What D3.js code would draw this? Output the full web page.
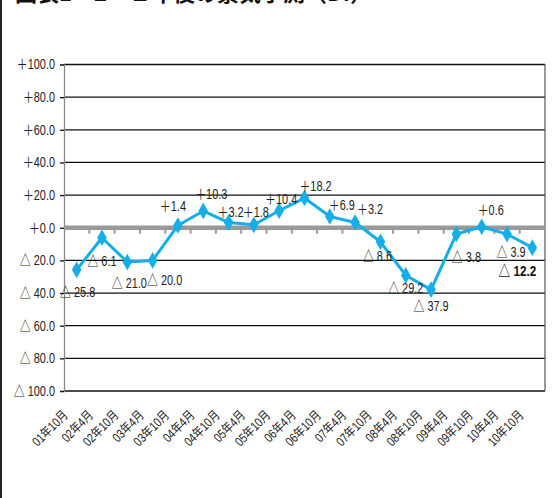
<!DOCTYPE html>
<html>
<head>
<meta charset="utf-8">
<script src="https://cdn.jsdelivr.net/npm/d3@7"></script>
<style>
  html, body { margin: 0; padding: 0; background: #fff; }
  svg { display: block; }
  text { font-family: "Liberation Sans", "Noto Sans CJK JP", sans-serif; fill: #222; }
</style>
</head>
<body>
<script>
// Survey periods (half-yearly)
const periods = ["01年10月","02年4月","02年10月","03年4月","03年10月","04年4月","04年10月",
  "05年4月","05年10月","06年4月","06年10月","07年4月","07年10月","08年4月","08年10月",
  "09年4月","09年10月","10年4月","10年10月"];
// DI values
const diValues = [-25.8, -6.1, -21.0, -20.0, 1.4, 10.3, 3.2, 1.8, 10.4, 18.2, 6.9, 3.2,
  -8.6, -29.2, -37.9, -3.8, 0.6, -3.9, -12.2];
// Y-axis ticks
const yTicks = [100, 80, 60, 40, 20, 0, -20, -40, -60, -80, -100];

// Label placement relative to each point [dx, dy]
const labelOffsets = [[1,23],[0,24],[2,22],[12,20],[-5,-19],[8,-16],[2,-10],[2,-12],[2,-11],
  [11,-11],[12,-11],[15,-13],[-3,15],[0,13],[0,17],[10,24],[9,-16],[4,18],[-15,23]];

const W = 557, H = 498;
const plotL = 64, plotR = 545, plotT = 64.5, plotB = 391;
const squeeze = 0.78;   // horizontal compression for a condensed look

const fmt = v => v > 0 ? "＋" + v.toFixed(1) : (v === 0 ? "＋0.0" : "△ " + Math.abs(v).toFixed(1));

const svg = d3.select("body").append("svg").attr("width", W).attr("height", H);

// Title (runs off the top edge)
svg.append("text")
  .attr("x", 15).attr("y", 1)
  .style("font-family", "'Noto Sans CJK JP', sans-serif")
  .style("font-weight", "bold").style("font-size", "22px").style("fill", "#111")
  .text("図表1－2　１年後の景気予測（DI）");

// Outer frame line on the left
svg.append("line").attr("x1", 1).attr("x2", 1).attr("y1", 0).attr("y2", H)
  .attr("stroke", "#222").attr("stroke-width", 2);

const x = d3.scaleBand().domain(periods).range([plotL, plotR]);
const y = d3.scaleLinear().domain([-100, 100]).range([plotB, plotT]);

// Gridlines
svg.append("g").selectAll("line").data(yTicks.filter(t => t !== 0)).join("line")
  .attr("x1", plotL).attr("x2", plotR)
  .attr("y1", d => y(d)).attr("y2", d => y(d))
  .attr("stroke", "#111").attr("stroke-width", 1.3);

// Right border of plot area
svg.append("line").attr("x1", plotR).attr("x2", plotR).attr("y1", y(100)).attr("y2", y(-100))
  .attr("stroke", "#555").attr("stroke-width", 1.2);

// Y axis
const yAxis = svg.append("g").attr("transform", `translate(${plotL},0)`)
  .call(d3.axisLeft(y).tickValues(yTicks).tickSize(4).tickPadding(7.5).tickFormat(fmt));
yAxis.select(".domain").attr("stroke", "#888").attr("stroke-width", 1.3);
yAxis.selectAll(".tick line").attr("stroke", "#111").attr("stroke-width", 1.3);
yAxis.selectAll(".tick text")
  .attr("transform", `scale(${squeeze},1)`)
  .style("font-size", "14px").style("fill", "#222")
  .style("font-family", "'Liberation Sans', 'Noto Sans CJK JP', sans-serif");

// Zero line with category ticks
const zero = svg.append("g").attr("transform", `translate(0,${y(0)})`);
zero.append("g").selectAll("line").data(periods.slice(1)).join("line")
  .attr("x1", d => x(d)).attr("x2", d => x(d)).attr("y1", 0).attr("y2", 6)
  .attr("stroke", "#999").attr("stroke-width", 2);
zero.append("line").attr("x1", plotL).attr("x2", plotR)
  .attr("stroke", "#999").attr("stroke-width", 4.5);

// X labels
const cx = d => x(d) + x.bandwidth() / 2;
svg.append("g").selectAll("text").data(periods).join("text")
  .attr("transform", d => `translate(${cx(d) - 8},416) rotate(-45) scale(0.8,1)`)
  .attr("text-anchor", "end")
  .style("font-size", "13px")
  .text(d => d);

// Line series
const pts = periods.map((p, i) => ({ p, v: diValues[i], i }));
svg.append("path").datum(pts)
  .attr("fill", "none").attr("stroke", "#16aee8").attr("stroke-width", 3)
  .attr("stroke-linejoin", "round")
  .attr("d", d3.line().x(d => cx(d.p)).y(d => y(d.v)));

svg.append("g").selectAll("path").data(pts).join("path")
  .attr("transform", d => `translate(${cx(d.p)},${y(d.v)})`)
  .attr("d", d3.symbol().type(d3.symbolDiamond).size(80))
  .attr("fill", "#16aee8");

// Value labels
const last = pts.length - 1;
svg.append("g").selectAll("text").data(pts).join("text")
  .attr("transform", d => `translate(${cx(d.p) + labelOffsets[d.i][0]},${y(d.v) + labelOffsets[d.i][1]}) scale(${squeeze},1)`)
  .attr("text-anchor", "middle").attr("dominant-baseline", "central")
  .style("font-size", d => d.i === last ? "15px" : "14px")
  .style("font-weight", d => d.i === last ? "bold" : "normal")
  .style("fill", d => d.i === last ? "#111" : "#222")
  .text(d => fmt(d.v));
</script>
</body>
</html>
